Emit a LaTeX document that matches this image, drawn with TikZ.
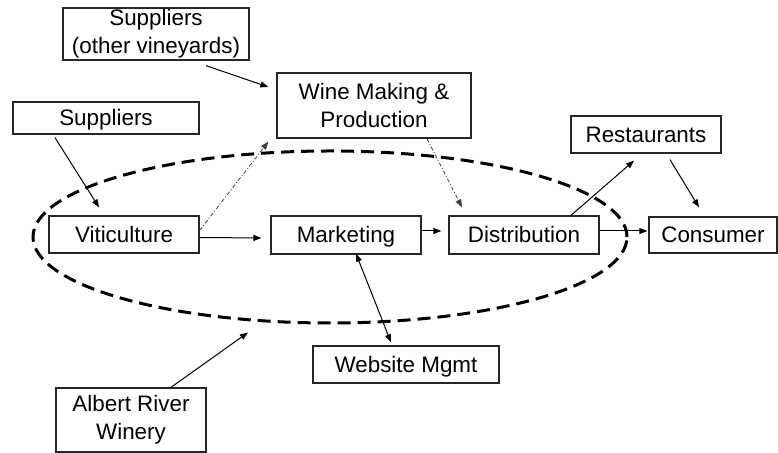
\documentclass[tikz,border=0pt]{standalone}
\usepackage{fontspec}
\setmainfont{Liberation Sans}
\usetikzlibrary{shapes.geometric, arrows.meta, calc}

\begin{document}
\begin{tikzpicture}[
  x=0.5pt, y=-0.5pt,
  box/.style={draw=black!85, line width=0.65pt, align=center, inner sep=0pt,
              font=\fontsize{11.2}{13.8}\selectfont},
  one/.style={box, text height=9.5pt, text depth=1.5pt},
  arr/.style={-{Triangle[length=4pt, width=3pt]}, line width=0.5pt},
  dots/.style={arr, line width=0.4pt, black!75,
               dash pattern=on 2pt off 1pt on 0.5pt off 1pt},
  ring/.style={draw, ellipse, line width=1.5pt, dash pattern=on 6.5pt off 3.5pt,
               inner sep=0pt}]
\useasboundingbox (0,0) rectangle (778,453);
% the winery's own activities
\node[ring, minimum width=297pt, minimum height=86pt] (firm) at (330,237) {};
\node[box, minimum width=93pt, minimum height=26pt] (supo) at (156,34)
  {Suppliers\\(other vineyards)};
\node[box, minimum width=97pt, minimum height=32.5pt] (wine) at (374,105.5)
  {Wine Making \&\\Production};
\node[one, minimum width=93pt, minimum height=16pt] (sup) at (106,118) {Suppliers};
\node[one, minimum width=75pt, minimum height=18.5pt] (viti) at (124,234.5) {Viticulture};
\node[one, minimum width=75pt, minimum height=19pt] (mark) at (346,235) {Marketing};
\node[one, minimum width=75pt, minimum height=19pt] (dist) at (524,235) {Distribution};
\node[one, minimum width=64pt, minimum height=18pt] (cons) at (713,235) {Consumer};
\node[one, minimum width=75pt, minimum height=18.5pt] (rest) at (646,134.5) {Restaurants};
\node[one, minimum width=93pt, minimum height=18.5pt] (web) at (406,364.5) {Website Mgmt};
\node[box, minimum width=75pt, minimum height=32pt] (alb) at (131,420)
  {Albert River\\Winery};
% flows
\draw[arr] ($(supo.south)+(50,5)$) -- ($(wine.west)+(-8,-18.5)$);
\draw[arr] ($(sup.south)+(-51,3)$) -- ($(viti.north)+(-25,-8)$);
\draw[dots] ($(viti.east)+(0,-4)$) -- ($(wine.south west)+(-8,3)$);
\draw[arr] ($(viti.east)+(0,3)$) -- ($(mark.west)+(-9,3)$);
\draw[arr] ($(mark.east)+(0,-4)$) -- ($(dist.west)+(-7,-4)$);
\draw[dots] ($(wine.south)+(53,0)$) -- ($(dist.north)+(-62,-8)$);
\draw[arr] ($(dist.east)+(0,-4)$) -- ($(cons.west)+(-1,-4)$);
\draw[arr] ($(dist.north)+(47,0)$) -- ($(rest.south)+(-12,7)$);
\draw[arr] ($(rest.south)+(24,6)$) -- ($(cons.north)+(-14,-9)$);
\draw[arr, {Triangle[length=4pt, width=3pt]}-{Triangle[length=4pt, width=3pt]}]
  ($(mark.south)+(10,-1)$) -- ($(web.north)+(-15,-3)$);
\draw[arr] ($(alb.north)+(40,0)$) -- ($(firm.south)+(-82,8)$);
\end{tikzpicture}
\end{document}
